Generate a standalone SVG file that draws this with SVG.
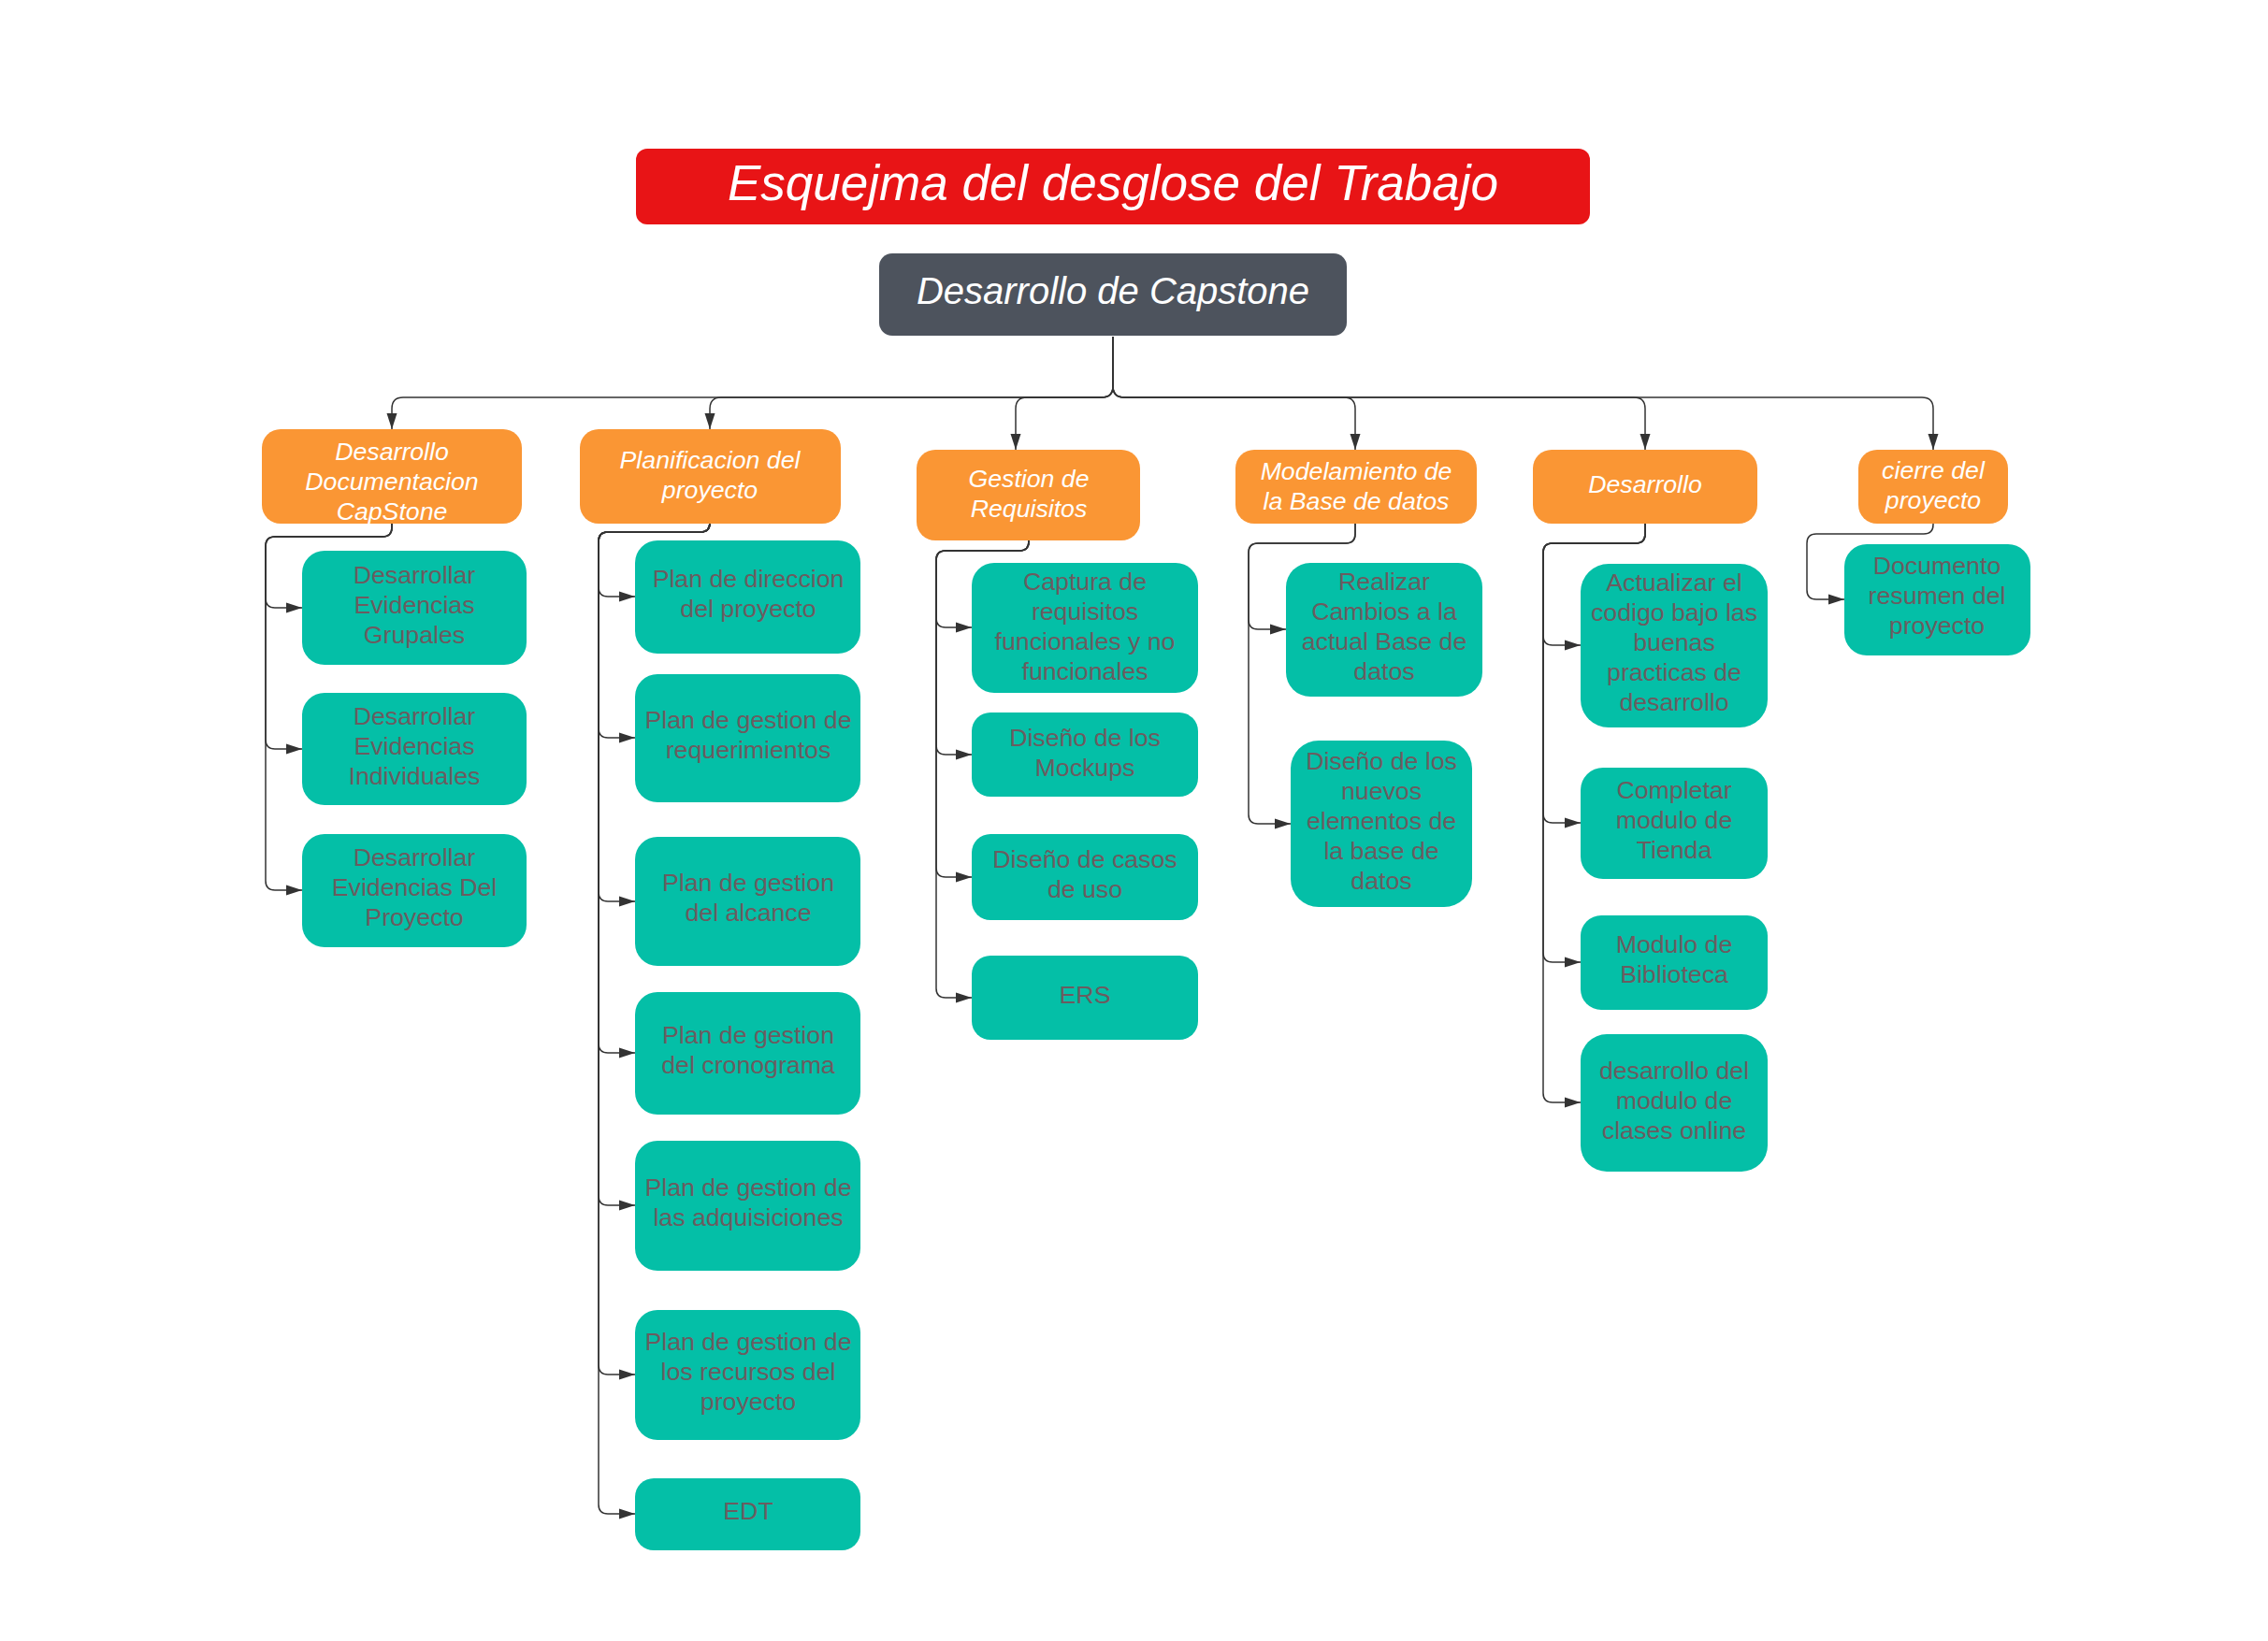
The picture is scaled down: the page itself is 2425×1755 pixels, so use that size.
<svg xmlns="http://www.w3.org/2000/svg" width="2425" height="1755" viewBox="0 0 2425 1755">
<defs>
<marker id="arr" markerUnits="userSpaceOnUse" markerWidth="17" markerHeight="12" viewBox="0 0 17 12" refX="17" refY="6" orient="auto">
<path d="M0,0.5 L17,6 L0,11.5 z" fill="#333333"/>
</marker>
<style>
text{font-family:"Liberation Sans",Arial,sans-serif;text-anchor:middle}
.title rect{fill:#E81416}
.title text{fill:#ffffff;font-size:53px;font-style:italic}
.root rect{fill:#4D535D}
.root text{fill:#ffffff;font-size:40px;font-style:italic}
.l1 rect{fill:#FA9634}
.l1 text{fill:#ffffff;font-size:26.7px;font-style:italic}
.l2 rect{fill:#04BFA7}
.l2 text{fill:#6B5C60;font-size:26.7px}
.con path{fill:none;stroke:#333333;stroke-width:1.5;marker-end:url(#arr)}
</style>
</defs>
<rect width="2425" height="1755" fill="#ffffff"/>

<g id="title" class="title"><rect x="680" y="159" width="1020" height="81" rx="12"/><text x="1190" y="214">Esquejma del desglose del Trabajo</text></g>
<g id="root" class="root"><rect x="940" y="271" width="500" height="88" rx="14"/><text x="1190" y="325">Desarrollo de Capstone</text></g>

<g id="connectors" class="con">
<path d="M1190,360 L1190,413 Q1190,425 1178,425 L431,425 Q419,425 419,437 L419,459"/>
<path d="M1190,360 L1190,413 Q1190,425 1178,425 L771,425 Q759,425 759,437 L759,459"/>
<path d="M1190,360 L1190,413 Q1190,425 1178,425 L1098,425 Q1086,425 1086,437 L1086,481"/>
<path d="M1190,360 L1190,413 Q1190,425 1202,425 L1437,425 Q1449,425 1449,437 L1449,481"/>
<path d="M1190,360 L1190,413 Q1190,425 1202,425 L1747,425 Q1759,425 1759,437 L1759,481"/>
<path d="M1190,360 L1190,413 Q1190,425 1202,425 L2055,425 Q2067,425 2067,437 L2067,481"/>

<path d="M419,560 L419,564 Q419,574 409,574 L294,574 Q284,574 284,584 L284,640 Q284,650 294,650 L323,650"/>
<path d="M419,560 L419,564 Q419,574 409,574 L294,574 Q284,574 284,584 L284,791 Q284,801 294,801 L323,801"/>
<path d="M419,560 L419,564 Q419,574 409,574 L294,574 Q284,574 284,584 L284,942 Q284,952 294,952 L323,952"/>

<path d="M759,560 L759,559 Q759,569 749,569 L650,569 Q640,569 640,579 L640,628 Q640,638 650,638 L679,638"/>
<path d="M759,560 L759,559 Q759,569 749,569 L650,569 Q640,569 640,579 L640,779 Q640,789 650,789 L679,789"/>
<path d="M759,560 L759,559 Q759,569 749,569 L650,569 Q640,569 640,579 L640,954 Q640,964 650,964 L679,964"/>
<path d="M759,560 L759,559 Q759,569 749,569 L650,569 Q640,569 640,579 L640,1116 Q640,1126 650,1126 L679,1126"/>
<path d="M759,560 L759,559 Q759,569 749,569 L650,569 Q640,569 640,579 L640,1279 Q640,1289 650,1289 L679,1289"/>
<path d="M759,560 L759,559 Q759,569 749,569 L650,569 Q640,569 640,579 L640,1460 Q640,1470 650,1470 L679,1470"/>
<path d="M759,560 L759,559 Q759,569 749,569 L650,569 Q640,569 640,579 L640,1609 Q640,1619 650,1619 L679,1619"/>

<path d="M1100,578 L1100,579 Q1100,589 1090,589 L1011,589 Q1001,589 1001,599 L1001,661 Q1001,671 1011,671 L1039,671"/>
<path d="M1100,578 L1100,579 Q1100,589 1090,589 L1011,589 Q1001,589 1001,599 L1001,797 Q1001,807 1011,807 L1039,807"/>
<path d="M1100,578 L1100,579 Q1100,589 1090,589 L1011,589 Q1001,589 1001,599 L1001,928 Q1001,938 1011,938 L1039,938"/>
<path d="M1100,578 L1100,579 Q1100,589 1090,589 L1011,589 Q1001,589 1001,599 L1001,1057 Q1001,1067 1011,1067 L1039,1067"/>

<path d="M1449,560 L1449,571 Q1449,581 1439,581 L1345,581 Q1335,581 1335,591 L1335,663 Q1335,673 1345,673 L1375,673"/>
<path d="M1449,560 L1449,571 Q1449,581 1439,581 L1345,581 Q1335,581 1335,591 L1335,871 Q1335,881 1345,881 L1380,881"/>

<path d="M1759,560 L1759,571 Q1759,581 1749,581 L1660,581 Q1650,581 1650,591 L1650,680 Q1650,690 1660,690 L1690,690"/>
<path d="M1759,560 L1759,571 Q1759,581 1749,581 L1660,581 Q1650,581 1650,591 L1650,870 Q1650,880 1660,880 L1690,880"/>
<path d="M1759,560 L1759,571 Q1759,581 1749,581 L1660,581 Q1650,581 1650,591 L1650,1019 Q1650,1029 1660,1029 L1690,1029"/>
<path d="M1759,560 L1759,571 Q1759,581 1749,581 L1660,581 Q1650,581 1650,591 L1650,1169 Q1650,1179 1660,1179 L1690,1179"/>

<path d="M2067,560 L2067,561 Q2067,571 2057,571 L1942,571 Q1932,571 1932,581 L1932,631 Q1932,641 1942,641 L1972,641"/>
</g>

<g id="n-doc" class="l1"><rect x="280" y="459" width="278" height="101" rx="20"/><text x="419"><tspan x="419" y="492">Desarrollo</tspan><tspan x="419" y="524">Documentacion</tspan><tspan x="419" y="556">CapStone</tspan></text></g>
<g id="n-plan" class="l1"><rect x="620" y="459" width="279" height="101" rx="20"/><text><tspan x="759" y="501">Planificacion del</tspan><tspan x="759" y="533">proyecto</tspan></text></g>
<g id="n-req" class="l1"><rect x="980" y="481" width="239" height="97" rx="20"/><text><tspan x="1100" y="521">Gestion de</tspan><tspan x="1100" y="553">Requisitos</tspan></text></g>
<g id="n-bd" class="l1"><rect x="1321" y="481" width="258" height="79" rx="20"/><text><tspan x="1450" y="513">Modelamiento de</tspan><tspan x="1450" y="545">la Base de datos</tspan></text></g>
<g id="n-dev" class="l1"><rect x="1639" y="481" width="240" height="79" rx="20"/><text x="1759" y="527">Desarrollo</text></g>
<g id="n-cierre" class="l1"><rect x="1987" y="481" width="160" height="79" rx="20"/><text><tspan x="2067" y="512">cierre del</tspan><tspan x="2067" y="544">proyecto</tspan></text></g>

<g id="n-grup" class="l2"><rect x="323" y="589" width="240" height="122" rx="24"/><text><tspan x="443" y="624">Desarrollar</tspan><tspan x="443" y="656">Evidencias</tspan><tspan x="443" y="688">Grupales</tspan></text></g>
<g id="n-indiv" class="l2"><rect x="323" y="741" width="240" height="120" rx="24"/><text><tspan x="443" y="775">Desarrollar</tspan><tspan x="443" y="807">Evidencias</tspan><tspan x="443" y="839">Individuales</tspan></text></g>
<g id="n-proy" class="l2"><rect x="323" y="892" width="240" height="121" rx="24"/><text><tspan x="443" y="926">Desarrollar</tspan><tspan x="443" y="958">Evidencias Del</tspan><tspan x="443" y="990">Proyecto</tspan></text></g>

<g id="n-p1" class="l2"><rect x="679" y="578" width="241" height="121" rx="24"/><text><tspan x="800" y="628">Plan de direccion</tspan><tspan x="800" y="660">del proyecto</tspan></text></g>
<g id="n-p2" class="l2"><rect x="679" y="721" width="241" height="137" rx="24"/><text><tspan x="800" y="779">Plan de gestion de</tspan><tspan x="800" y="811">requerimientos</tspan></text></g>
<g id="n-p3" class="l2"><rect x="679" y="895" width="241" height="138" rx="24"/><text><tspan x="800" y="953">Plan de gestion</tspan><tspan x="800" y="985">del alcance</tspan></text></g>
<g id="n-p4" class="l2"><rect x="679" y="1061" width="241" height="131" rx="24"/><text><tspan x="800" y="1116">Plan de gestion</tspan><tspan x="800" y="1148">del cronograma</tspan></text></g>
<g id="n-p5" class="l2"><rect x="679" y="1220" width="241" height="139" rx="24"/><text><tspan x="800" y="1279">Plan de gestion de</tspan><tspan x="800" y="1311">las adquisiciones</tspan></text></g>
<g id="n-p6" class="l2"><rect x="679" y="1401" width="241" height="139" rx="24"/><text><tspan x="800" y="1444">Plan de gestion de</tspan><tspan x="800" y="1476">los recursos del</tspan><tspan x="800" y="1508">proyecto</tspan></text></g>
<g id="n-p7" class="l2"><rect x="679" y="1581" width="241" height="77" rx="20"/><text x="800" y="1625">EDT</text></g>

<g id="n-r1" class="l2"><rect x="1039" y="602" width="242" height="139" rx="24"/><text><tspan x="1160" y="631">Captura de</tspan><tspan x="1160" y="663">requisitos</tspan><tspan x="1160" y="695">funcionales y no</tspan><tspan x="1160" y="727">funcionales</tspan></text></g>
<g id="n-r2" class="l2"><rect x="1039" y="762" width="242" height="90" rx="20"/><text><tspan x="1160" y="798">Diseño de los</tspan><tspan x="1160" y="830">Mockups</tspan></text></g>
<g id="n-r3" class="l2"><rect x="1039" y="892" width="242" height="92" rx="20"/><text><tspan x="1160" y="928">Diseño de casos</tspan><tspan x="1160" y="960">de uso</tspan></text></g>
<g id="n-r4" class="l2"><rect x="1039" y="1022" width="242" height="90" rx="20"/><text x="1160" y="1073">ERS</text></g>

<g id="n-b1" class="l2"><rect x="1375" y="602" width="210" height="143" rx="26"/><text><tspan x="1480" y="631">Realizar</tspan><tspan x="1480" y="663">Cambios a la</tspan><tspan x="1480" y="695">actual Base de</tspan><tspan x="1480" y="727">datos</tspan></text></g>
<g id="n-b2" class="l2"><rect x="1380" y="792" width="194" height="178" rx="30"/><text><tspan x="1477" y="823">Diseño de los</tspan><tspan x="1477" y="855">nuevos</tspan><tspan x="1477" y="887">elementos de</tspan><tspan x="1477" y="919">la base de</tspan><tspan x="1477" y="951">datos</tspan></text></g>

<g id="n-d1" class="l2"><rect x="1690" y="603" width="200" height="175" rx="30"/><text><tspan x="1790" y="632">Actualizar el</tspan><tspan x="1790" y="664">codigo bajo las</tspan><tspan x="1790" y="696">buenas</tspan><tspan x="1790" y="728">practicas de</tspan><tspan x="1790" y="760">desarrollo</tspan></text></g>
<g id="n-d2" class="l2"><rect x="1690" y="821" width="200" height="119" rx="24"/><text><tspan x="1790" y="854">Completar</tspan><tspan x="1790" y="886">modulo de</tspan><tspan x="1790" y="918">Tienda</tspan></text></g>
<g id="n-d3" class="l2"><rect x="1690" y="979" width="200" height="101" rx="22"/><text><tspan x="1790" y="1019">Modulo de</tspan><tspan x="1790" y="1051">Biblioteca</tspan></text></g>
<g id="n-d4" class="l2"><rect x="1690" y="1106" width="200" height="147" rx="28"/><text><tspan x="1790" y="1154">desarrollo del</tspan><tspan x="1790" y="1186">modulo de</tspan><tspan x="1790" y="1218">clases online</tspan></text></g>

<g id="n-c1" class="l2"><rect x="1972" y="582" width="199" height="119" rx="24"/><text><tspan x="2071" y="614">Documento</tspan><tspan x="2071" y="646">resumen del</tspan><tspan x="2071" y="678">proyecto</tspan></text></g>
</svg>
